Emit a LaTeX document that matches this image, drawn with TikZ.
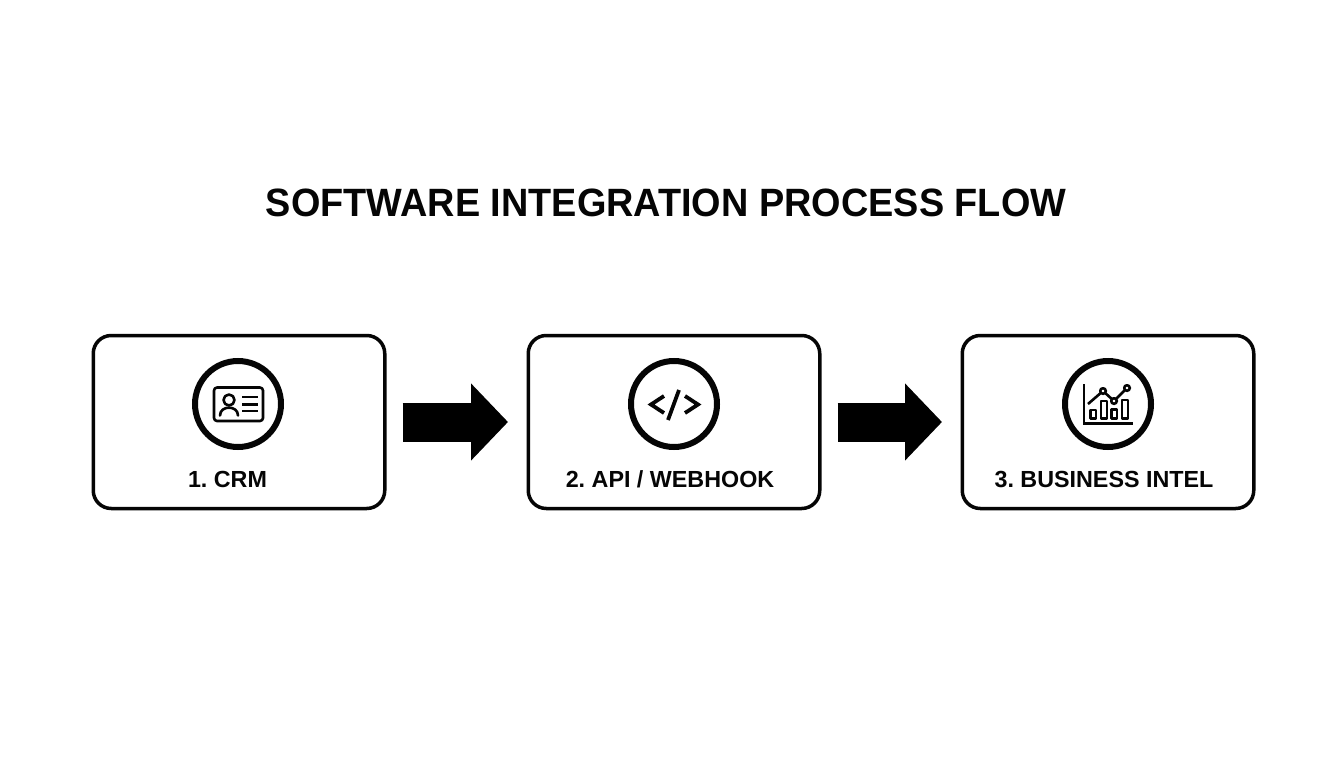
\documentclass[tikz,border=0pt]{standalone}
\usepackage{fontspec}
\setmainfont{Liberation Sans}
\usetikzlibrary{arrows.meta}
\definecolor{ink}{HTML}{050505}
\tikzset{
  stagebox/.style={draw=ink,line width=3.5pt,rounded corners=18pt,minimum width=291.5pt,minimum height=173pt,outer sep=1.75pt,inner sep=0pt,fill=white},
  ring/.style={draw=ink,line width=6pt,circle,minimum size=86pt,inner sep=0pt,outer sep=0pt},
  stagelabel/.style={font=\bfseries\fontsize{23.3}{26}\selectfont,text=ink,inner sep=0pt,anchor=center},
  flowarrow/.style={draw=black,line width=39pt,-{Triangle[length=37pt,width=75pt]},shorten <=16pt,shorten >=18.5pt},
  iconline/.style={draw=ink,line width=2.6pt,line cap=round,line join=round},
  iconbold/.style={draw=ink,line width=3.8pt,line join=miter},
}
\begin{document}
\begin{tikzpicture}[x=1pt,y=-1pt]
\useasboundingbox[fill=white] (0,0) rectangle (1344,768);
\node[font=\bfseries\fontsize{39.5}{44}\selectfont,text=ink,inner sep=0pt] (title) at (666,203) {\scalebox{0.958}[1]{SOFTWARE INTEGRATION PROCESS FLOW}};
\node[stagebox] (crm) at (239,422) {};
\node[stagebox] (api) at (674,422) {};
\node[stagebox] (bi) at (1108,422) {};
\node[ring] (crmicon) at (238,404) {};
\node[ring] (apiicon) at (674,404) {};
\node[ring] (biicon) at (1108,404) {};
\node[stagelabel] (crmlabel) at (227.5,479) {\frenchspacing 1. CRM};
\node[stagelabel] (apilabel) at (670,479) {\frenchspacing 2. API / WEBHOOK};
\node[stagelabel] (bilabel) at (1104,479) {\frenchspacing 3. BUSINESS INTEL};
\draw[flowarrow] (crm) -- (api);
\draw[flowarrow] (api) -- (bi);
% CRM icon
\draw[iconline,rounded corners=3pt] (214,387.5) rectangle (263,421);
\draw[iconline] (229,400) circle (5.5);
\draw[iconline] (220,415.5) .. controls (220,405) and (238,405) .. (238,415.5);
\draw[iconline,line cap=butt] (242,397) -- (258,397) (242,404.5) -- (258,404.5) (242,411) -- (258,411);
% API icon
\draw[iconbold] (664,396) -- (651,404.5) -- (664,413);
\draw[iconbold] (679,390) -- (668,420);
\draw[iconbold] (685,396) -- (698,404.5) -- (685,413);
% BI icon
\draw[iconline,line cap=butt,line join=miter] (1084,384) -- (1084,423.5) -- (1133,423.5);
\draw[iconline,line cap=butt] (1090.5,410) rectangle (1096,418.5) (1101,401) rectangle (1107,418.5) (1111.5,409.5) rectangle (1117,418.5) (1122,400) rectangle (1128,418.5);
\draw[iconline,line cap=butt] (1088,404) -- (1103,391) -- (1114,401) -- (1127,388);
\draw[iconline,fill=white] (1103,391) circle (2.8) (1114,401) circle (2.8) (1127,388) circle (2.8);
\end{tikzpicture}
\end{document}
